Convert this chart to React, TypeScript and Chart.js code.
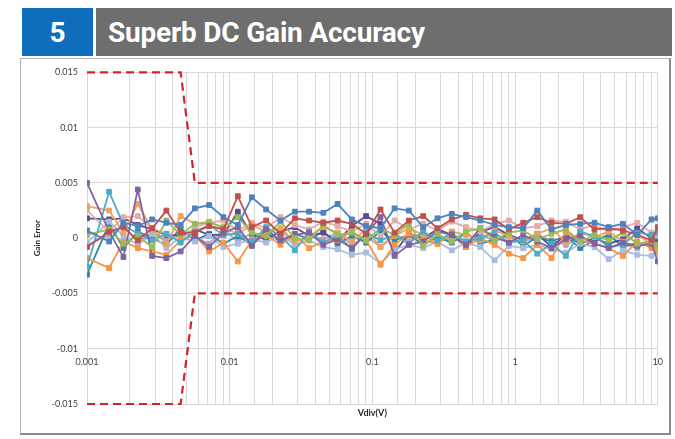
import { useEffect, useRef } from 'react';
import { Chart, registerables } from 'chart.js';

Chart.register(...registerables);

// Vdiv (V) sample points
const vdiv = [
  0.001, 0.00143, 0.0018, 0.00227, 0.00286, 0.0036, 0.00453, 0.0057, 0.00718, 0.00904,
  0.0114, 0.0143, 0.018, 0.0227, 0.0286, 0.036, 0.0453, 0.057, 0.0718, 0.0904,
  0.114, 0.143, 0.18, 0.227, 0.286, 0.36, 0.453, 0.57, 0.718, 0.904,
  1.14, 1.43, 1.8, 2.27, 2.86, 3.6, 4.53, 5.7, 7.18, 9.04,
  10,
];

// Limit lines
const limitX = [0.001, 0.00453, 0.0057, 10];
const upperLimit = [0.015, 0.015, 0.005, 0.005];
const lowerLimit = [-0.015, -0.015, -0.005, -0.005];

// Gain error of each unit, in units of 1e-3
const blue = [
  0.7, -0.3, 1.4, 1.1, 1.7, 1.4, 1.2, 2.7, 3.0, 1.9,
  1.2, 3.7, 2.6, 1.6, 2.4, 2.4, 2.3, 3.1, 1.7, 1.1,
  0.9, 2.7, 2.5, 1.0, 1.8, 2.2, 1.9, 1.6, 1.2, 1.0,
  0.9, 2.5, 0.8, 1.2, 1.3, 1.4, 1.0, 1.3, 0.3, 1.7,
  1.8,
];
const red = [
  -0.8, 0.6, 1.0, -0.2, 0.9, 2.5, 0.5, 0.5, 1.1, 0.8,
  3.8, 1.0, 1.6, 0.4, 1.8, 1.6, 1.4, 1.6, 1.3, 0.4,
  2.6, 0.5, 1.6, 2.0, 0.9, 1.7, 2.1, 1.8, 1.7, 0.8,
  1.4, 1.9, 1.4, 1.3, 1.9, 0.8, 0.9, 0.7, 0.3, -0.2,
  1.0,
];
const green = [
  0.3, 0.8, -0.5, 0.2, -0.8, 1.6, 0.3, 1.3, 1.4, 1.0,
  1.9, 0.5, 0.2, 1.5, 0.0, -0.2, 1.2, 0.3, 0.5, -0.2,
  0.9, 0.3, 1.3, -0.7, 0.4, -0.3, 0.6, 0.9, -0.2, 0.5,
  0.7, -0.1, 0.4, 0.8, -0.3, 0.3, -0.2, 0.5, -0.5, -0.3,
  -0.6,
];
const purple = [
  5.0, 0.6, -1.7, 4.4, -1.6, -1.8, -1.2, 0.2, -0.8, 0.5,
  1.0, -0.7, 0.8, -0.2, 0.3, 0.5, -0.6, -0.1, -0.9, 0.4,
  1.9, -1.6, -0.6, -0.3, 0.6, 0.3, -0.6, 0.9, 0.1, -0.4,
  0.3, -0.3, -0.9, -0.1, 0.2, -0.5, -0.9, -0.4, -0.7, -0.5,
  -2.1,
];
const teal = [
  -2.6, 4.2, 1.2, 0.4, -0.2, 0.4, -0.4, 0.6, 1.2, 0.3,
  0.4, -0.3, 1.0, 0.2, -1.1, 0.6, -0.4, 0.3, -1.0, 0.5,
  -0.2, 0.3, -0.5, 0.6, -0.2, 0.4, -0.3, 0.0, 0.5, -0.4,
  -0.2, -1.4, -0.5, -1.6, 0.6, 0.2, -0.8, -0.6, 0.5, 0.3,
  0.5,
];
const orange = [
  -1.8, -2.7, -0.3, -0.9, -1.2, -1.5, -0.2, 0.3, -1.2, -0.4,
  -2.1, -0.2, 0.3, -0.6, 0.3, -0.9, -0.3, -0.2, 0.6, -0.2,
  -2.4, -0.6, 0.4, -0.2, -0.5, 0.5, -0.8, 0.0, -0.6, -1.4,
  -1.8, -0.6, -1.8, 0.5, -0.2, -0.5, -0.9, -1.6, -0.3, -0.9,
  -1.2,
];
const tan = [
  2.9, 2.5, 0.5, 3.1, 0.8, -0.5, 2.0, 1.3, 1.5, 0.9,
  0.4, 1.2, 0.6, 0.9, -0.3, 0.2, 1.0, 0.5, -0.3, 0.8,
  -0.8, 0.2, 0.9, 0.3, -0.5, 0.6, 0.3, -0.2, 0.7, 0.2,
  -0.3, 0.4, 0.9, -0.4, 0.5, 0.1, 0.6, -0.3, 0.4, -0.6,
  -0.9,
];
const pink = [
  2.5, 0.6, 1.9, 2.0, 0.9, 0.4, -0.2, 1.0, 1.4, 1.6,
  0.7, 1.4, 0.9, 1.9, 1.2, 0.8, 1.5, 1.1, 0.6, 1.3,
  0.2, 1.6, 0.8, 1.3, 0.7, 1.5, 1.0, 0.6, 1.3, 1.6,
  0.9, 1.1, 1.6, 1.5, 0.8, 1.2, 0.6, 1.0, 1.4, 0.5,
  0.4,
];
const lightBlue = [
  -0.4, 1.5, 0.2, -0.6, 0.4, -0.9, 0.1, -0.3, 0.2, -0.8,
  -0.5, -0.1, -0.4, 0.3, -0.6, -0.2, -0.8, -1.0, -1.5, -1.3,
  -2.3, -1.0, -0.6, -0.9, -0.3, -1.1, -0.4, -0.8, -2.0, -0.7,
  -0.9, -0.6, -1.0, -1.3, -0.5, -0.8, -1.9, -1.1, -1.5, -1.6,
  -1.3,
];
const indigo = [
  1.8, 1.7, 1.8, 1.2, 0.8, 0.3, 0.2, 0.8, 0.3, 0.3,
  2.4, 0.3, -0.1, 0.6, 1.0, 0.2, 0.5, -0.3, 1.1, 2.0,
  1.3, -1.3, 0.4, 0.0, 0.8, 0.3, -0.8, 0.6, 1.0, 0.3,
  -0.2, 0.4, -0.8, 0.3, -0.5, 0.0, -0.5, -0.1, 0.9, 0.0,
  -0.3,
];
const darkTeal = [
  -3.3, 1.3, -0.9, 0.6, 0.0, -0.6, 0.9, -0.2, 0.4, -0.5,
  0.2, -0.6, 0.5, -0.3, 0.4, -0.1, 0.6, -0.5, 0.2, -0.4,
  0.6, -0.2, 0.3, -0.6, 0.1, -0.4, 0.5, -0.5, -0.1, 0.3,
  -0.7, 0.1, -0.3, 0.2, -0.9, -0.2, 0.3, -0.8, -0.4, -0.7,
  -0.9,
];
const lavender = [
  -0.6, 0.3, 1.2, -0.4, 0.5, -0.2, 0.6, 0.1, -0.5, 0.8,
  -0.3, 0.5, -0.2, 0.7, -0.4, 0.3, -0.1, 0.5, -0.6, 0.2,
  -0.8, 0.4, -0.3, 0.6, -0.2, 0.1, -0.5, 0.4, -0.3, 0.2,
  -0.4, 0.3, -0.2, -0.6, 0.1, -0.3, 0.2, -0.5, -0.9, -0.2,
  0.3,
];

const seriesValues = [blue, red, green, purple, teal, orange, tan, pink, lightBlue, indigo, darkTeal, lavender];
const seriesColors = [
  '#4F81BD', '#C0504D', '#9BBB59', '#8064A2', '#4BACC6', '#F79646',
  '#EFA25E', '#E3ABAA', '#A7BCE2', '#5F4B8B', '#2E8BA3', '#B3A2C7',
];

const FONT = 'Lato, "Open Sans", sans-serif';

export default function App() {
  const ref = useRef<HTMLCanvasElement>(null);

  useEffect(() => {
    if (!ref.current) return;
    const datasets: any[] = seriesValues.map((vals, i) => ({
      data: vals.map((v, j) => ({ x: vdiv[j], y: v / 1000 })),
      borderColor: seriesColors[i],
      backgroundColor: seriesColors[i],
      borderWidth: 1.8,
      pointStyle: 'rect',
      pointRadius: 3.4,
      pointBorderWidth: 1,
      tension: 0,
      xAxisID: 'x',
      yAxisID: 'y',
    }));
    [upperLimit, lowerLimit].forEach((lim) => {
      datasets.push({
        data: lim.map((v, j) => ({ x: limitX[j], y: v })),
        borderColor: '#D2232A',
        borderWidth: 2.2,
        borderDash: [8, 5],
        pointRadius: 0,
        tension: 0,
        clip: false,
        xAxisID: 'x',
        yAxisID: 'y',
      });
    });

    const grid = '#D9D9D9';
    const chart = new Chart(ref.current, {
      type: 'line',
      data: { datasets },
      options: {
        animation: false,
        responsive: false,
        maintainAspectRatio: false,
        layout: { padding: { top: 11, right: 12, left: 0, bottom: 0 } },
        plugins: { legend: { display: false }, tooltip: { enabled: false } },
        scales: {
          x: {
            type: 'logarithmic',
            min: 0.001,
            max: 10,
            position: { y: -0.01 } as any,
            grid: { color: grid, lineWidth: 1, drawTicks: false },
            border: { display: false },
            ticks: {
              autoSkip: false,
              maxRotation: 0,
              padding: 8,
              color: '#404040',
              font: { family: FONT, size: 9 },
              callback: (v: any) => {
                const l = Math.log10(Number(v));
                return Math.abs(l - Math.round(l)) < 1e-6 ? String(Number(v)) : '';
              },
            },
          },
          x2: {
            type: 'linear',
            position: 'bottom',
            ticks: { display: false },
            grid: { display: false },
            border: { display: false },
            title: {
              display: true,
              text: 'Vdiv(V)',
              color: '#262626',
              font: { family: FONT, size: 9, weight: 'bold' },
              padding: { top: 0, bottom: 17 },
            },
            afterFit: (s: any) => { s.height = 31; },
          },
          y: {
            type: 'linear',
            min: -0.015,
            max: 0.015,
            grid: { color: grid, lineWidth: 1, drawTicks: false },
            border: { display: false },
            ticks: {
              stepSize: 0.005,
              padding: 9,
              color: '#404040',
              font: { family: FONT, size: 9 },
              callback: (v: any) => String(parseFloat(Number(v).toFixed(4))),
            },
            title: {
              display: true,
              text: 'Gain Error',
              color: '#262626',
              font: { family: FONT, size: 8, weight: 'bold' },
              padding: { top: 13, bottom: 0 },
            },
            afterFit: (s: any) => { s.width = 67; },
          },
        },
      },
    });
    return () => chart.destroy();
  }, []);

  return (
    <div style={{ position: 'absolute', left: 0, top: 0, width: 675, height: 439, background: '#fff', overflow: 'hidden' }}>
      <div
        style={{
          position: 'absolute', left: 22, top: 8, width: 71, height: 48, background: '#0E6EBD',
          color: '#fff', font: `bold 28px Roboto, sans-serif`, display: 'flex', alignItems: 'center', justifyContent: 'center',
        }}
      >
        5
      </div>
      <div
        style={{
          position: 'absolute', left: 96, top: 8, width: 576, height: 48, background: '#6E6E6E',
          color: '#fff', font: `bold 28px Roboto, sans-serif`, display: 'flex', alignItems: 'center',
          paddingLeft: 12, boxSizing: 'border-box', letterSpacing: '-0.2px',
        }}
      >
        Superb DC Gain Accuracy
      </div>
      <div
        style={{
          position: 'absolute', left: 20, top: 58, width: 651, height: 377, boxSizing: 'border-box',
          borderLeft: '1px solid #B5B5B5', borderTop: '1px solid #B5B5B5',
          borderRight: '2px solid #8C8C8C', borderBottom: '2px solid #8C8C8C',
        }}
      />
      <canvas ref={ref} width={651} height={377} style={{ position: 'absolute', left: 20, top: 58, display: 'block' }} />
    </div>
  );
}
